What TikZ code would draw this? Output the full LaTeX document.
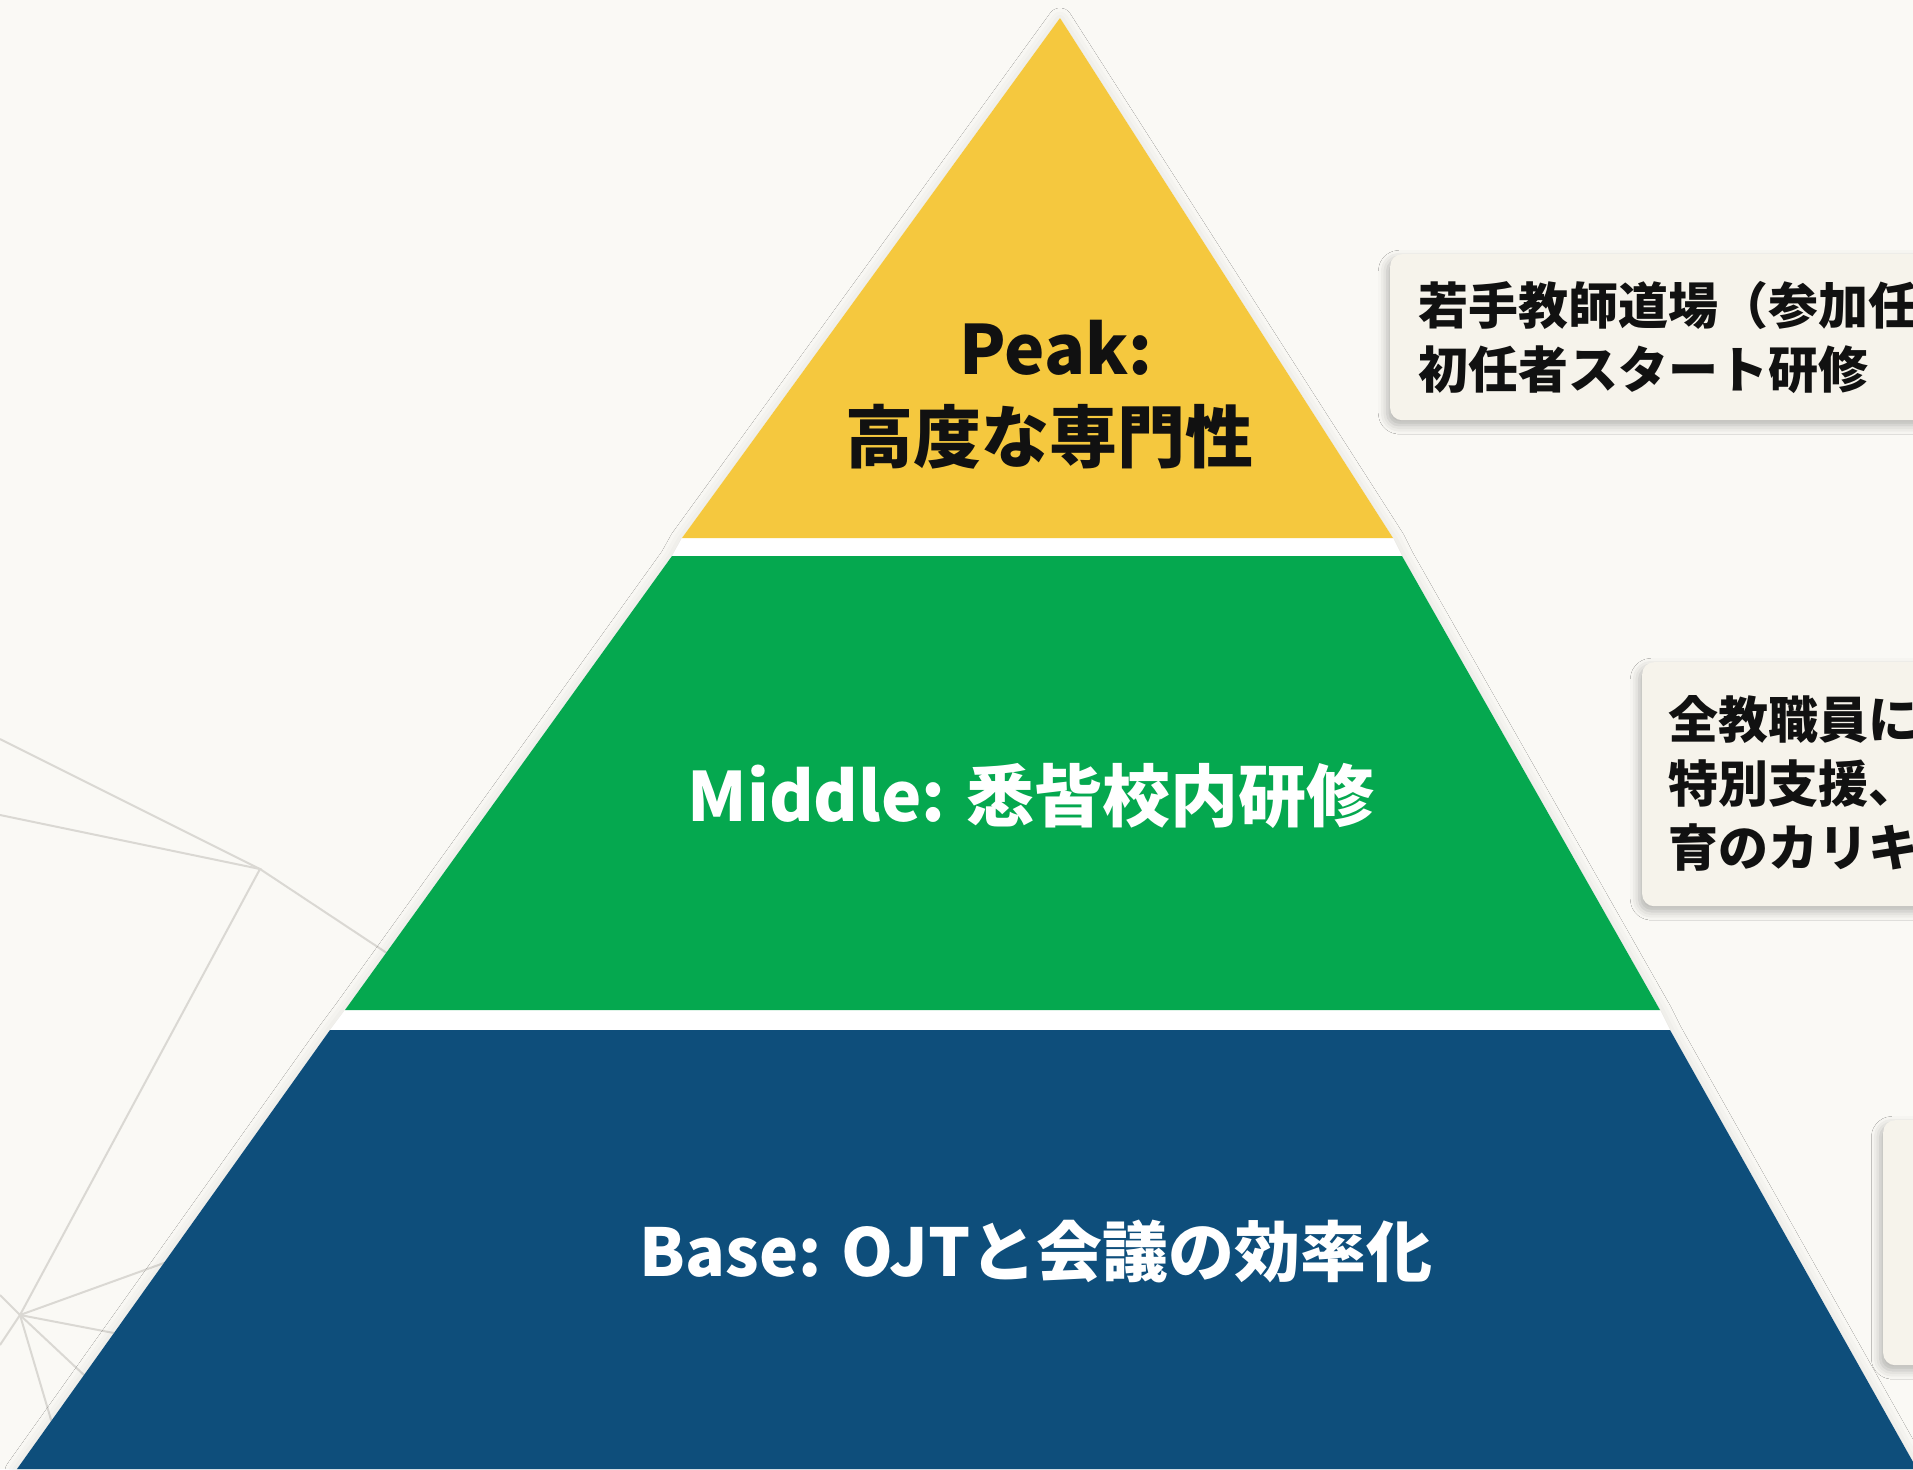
\documentclass[tikz,border=0pt]{standalone}
\usepackage{fontspec}
\setmainfont{Noto Sans CJK JP}
\usetikzlibrary{shadows.blur}
\definecolor{bg}{HTML}{FAF9F5}
\definecolor{peakc}{HTML}{F5C83E}
\definecolor{midc}{HTML}{05A84F}
\definecolor{basec}{HTML}{0E4E7B}
\definecolor{boxfill}{HTML}{F6F3EB}
\definecolor{ink}{HTML}{111111}
\definecolor{netgray}{HTML}{DAD8D3}
\begin{document}
\begin{tikzpicture}[x=1pt,y=-1pt,
  lbl/.style={font=\bfseries\fontsize{68}{80}\selectfont, inner sep=0pt, anchor=base},
  boxtext/.style={font=\bfseries\fontsize{50}{60}\selectfont, text=ink, anchor=base west, inner sep=0pt},
  infobox/.style={fill=boxfill, rounded corners=12pt, draw=none, anchor=north west, inner sep=0pt,
    blur shadow={shadow xshift=-3pt, shadow yshift=-5pt, shadow blur radius=9pt, shadow opacity=28}},
  netline/.style={draw=netgray, line width=2pt},
  outline/.style={fill=white, draw=none, blur shadow={shadow xshift=0pt, shadow yshift=-2pt, shadow blur radius=12pt, shadow opacity=12}}
]
\useasboundingbox (0,0) rectangle (1913,1469);
\clip (0,0) rectangle (1913,1469);
\fill[bg] (0,0) rectangle (1913,1469);

% background network
\coordinate (n1) at (260,869);
\coordinate (n2) at (20,1315);
\coordinate (e1) at (0,739);
\coordinate (e2) at (0,815);
\coordinate (e3) at (420,975);
\coordinate (e4) at (200,1250);
\coordinate (e5) at (140,1338);
\coordinate (e6) at (100,1390);
\coordinate (e7) at (60,1450);
\coordinate (e8) at (0,1295);
\coordinate (e9) at (0,1345);
\draw[netline] (e1) -- (n1) -- (e3);
\draw[netline] (e2) -- (n1) -- (n2);
\draw[netline] (n2) -- (e4);
\draw[netline] (n2) -- (e5);
\draw[netline] (n2) -- (e6);
\draw[netline] (n2) -- (e7);
\draw[netline] (n2) -- (e8);
\draw[netline] (n2) -- (e9);

% pyramid outline (white gaps between tiers)
\path[outline] (1060,18) -- (1393,538) -- (1402,556) -- (1660,1010) -- (1670,1030)
  -- (1917,1469) -- (17,1469) -- (330,1030) -- (345,1010) -- (672,556) -- (682,538) -- cycle;

% pyramid tiers
\fill[peakc] (1060,18) -- (1393,538) -- (682,538) -- cycle;
\fill[midc] (672,556) -- (1402,556) -- (1660,1010) -- (345,1010) -- cycle;
\fill[basec] (330,1030) -- (1670,1030) -- (1917,1469) -- (17,1469) -- cycle;

% tier labels
\node[lbl, text=ink] (peak1) at (1056,374) {Peak:};
\node[lbl, text=ink] (peak2) at (1049,462) {高度な専門性};
\node[lbl, text=white] (mid) at (1031,821) {Middle: 悉皆校内研修};
\node[lbl, text=white, font=\bfseries\fontsize{66}{80}\selectfont] (base) at (1036,1276) {Base: OJTと会議の効率化};

% side boxes
\node[infobox, minimum width=600pt, minimum height=166pt] (box1) at (1390,254) {};
\node[boxtext] (b1l1) at (1418,324) {若手教師道場（参加任};
\node[boxtext] (b1l2) at (1418,388) {初任者スタート研修};

\node[infobox, minimum width=400pt, minimum height=244pt] (box2) at (1642,662) {};
\node[boxtext] (b2l1) at (1668,738) {全教職員に};
\node[boxtext] (b2l2) at (1668,802) {特別支援、};
\node[boxtext] (b2l3) at (1668,866) {育のカリキ};

\node[infobox, minimum width=200pt, minimum height=245pt] (box3) at (1883,1120) {};
\end{tikzpicture}
\end{document}
